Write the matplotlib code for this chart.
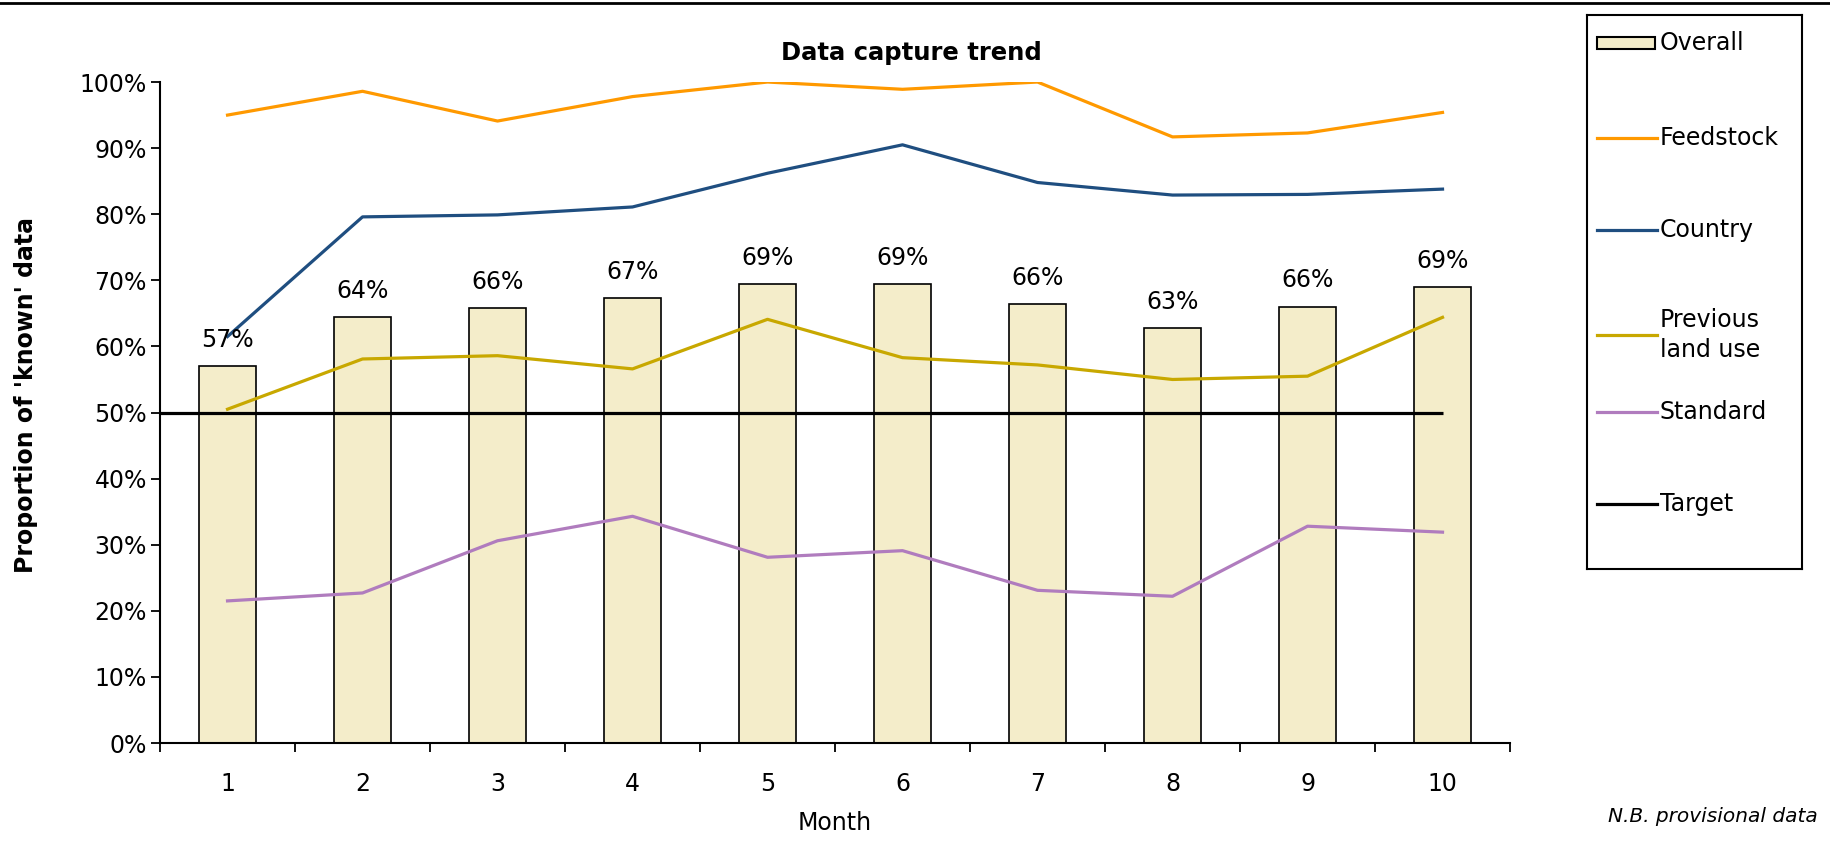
import matplotlib
matplotlib.use("Agg")
import matplotlib.pyplot as plt
from matplotlib.lines import Line2D
from matplotlib.patches import Rectangle
from matplotlib.ticker import PercentFormatter, FixedLocator

months = [1, 2, 3, 4, 5, 6, 7, 8, 9, 10]
overall = [0.570, 0.644, 0.658, 0.673, 0.694, 0.694, 0.664, 0.628, 0.660, 0.690]
feedstock = [0.950, 0.986, 0.941, 0.978, 1.000, 0.989, 1.000, 0.917, 0.923, 0.954]
country = [0.615, 0.796, 0.799, 0.811, 0.862, 0.905, 0.848, 0.829, 0.830, 0.838]
previous_land_use = [0.505, 0.581, 0.586, 0.566, 0.641, 0.583, 0.572, 0.550, 0.555, 0.644]
standard = [0.215, 0.227, 0.306, 0.343, 0.281, 0.291, 0.231, 0.222, 0.328, 0.319]
target = 0.5

BAR = "#F4EDCA"
ORANGE = "#FF9900"
BLUE = "#1F4E80"
GOLD = "#C8A800"
PURPLE = "#B07CBE"

plt.rcParams["font.family"] = "DejaVu Sans"
FS = 17

fig = plt.figure(figsize=(18.31, 8.51), dpi=100)
ax = fig.add_axes([0.0874, 0.1269, 0.7373, 0.7767])

ax.bar(months, overall, width=0.42, color=BAR, edgecolor="black", linewidth=1.2, zorder=2)
for m, v in zip(months, overall):
    ax.annotate(f"{v * 100:.0f}%", (m, v), xytext=(0, 19), textcoords="offset points",
                ha="center", va="center", fontsize=FS, zorder=5)

ax.plot(months, feedstock, color=ORANGE, lw=2.3, zorder=3)
ax.plot(months, country, color=BLUE, lw=2.3, zorder=3)
ax.plot(months, previous_land_use, color=GOLD, lw=2.3, zorder=3)
ax.plot(months, standard, color=PURPLE, lw=2.3, zorder=3)
ax.hlines(target, 0.5, months[-1], color="black", lw=2.3, zorder=4)

ax.set_xlim(0.5, 10.5)
ax.set_ylim(0, 1)
ax.yaxis.set_major_locator(FixedLocator([i / 10 for i in range(11)]))
ax.yaxis.set_major_formatter(PercentFormatter(1.0, decimals=0))
ax.set_xticks(months)
ax.set_xticks([m + 0.5 for m in [0] + months], minor=True)
ax.tick_params(axis="x", which="major", length=0, pad=21, labelsize=FS)
ax.tick_params(axis="x", which="minor", length=6.5, width=1.3, direction="out")
ax.tick_params(axis="y", length=6.5, width=1.3, pad=3, labelsize=FS)
for s in ["top", "right"]:
    ax.spines[s].set_visible(False)
for s in ["left", "bottom"]:
    ax.spines[s].set_linewidth(1.5)

fig.text(0.4975, 0.938, "Data capture trend", ha="center", va="center",
         fontsize=17.5, fontweight="bold")
fig.text(0.0142, 0.536, "Proportion of 'known' data", ha="center", va="center",
         rotation=90, fontsize=FS, fontweight="bold")
fig.text(0.456, 0.033, "Month", ha="center", va="center", fontsize=FS)
fig.text(0.993, 0.04, "N.B. provisional data", ha="right", va="center",
         fontsize=14.5, style="italic")

# top border
fig.add_artist(Line2D([0, 1], [0.9965, 0.9965], color="black", lw=2.0, transform=fig.transFigure))

# legend box drawn in pixel-like units
lg = fig.add_axes([1587 / 1831, 1 - 569 / 851, 215 / 1831, 554 / 851])
lg.set_xlim(0, 215)
lg.set_ylim(554, 0)
lg.set_xticks([])
lg.set_yticks([])
for s in lg.spines.values():
    s.set_linewidth(1.5)

entries = [
    ("Overall", None, 28),
    ("Feedstock", ORANGE, 123),
    ("Country", BLUE, 215),
    ("Previous\nland use", GOLD, 320),
    ("Standard", PURPLE, 397),
    ("Target", "black", 489),
]
for label, col, yy in entries:
    if col is None:
        lg.add_patch(Rectangle((10, yy - 6), 58, 12, facecolor=BAR, edgecolor="black", lw=1.5))
    else:
        lg.plot([10, 70], [yy, yy], color=col, lw=2.3)
    lg.text(73, yy, label, va="center", ha="left", fontsize=FS, linespacing=1.35)

fig.savefig("out.png", dpi=100)
